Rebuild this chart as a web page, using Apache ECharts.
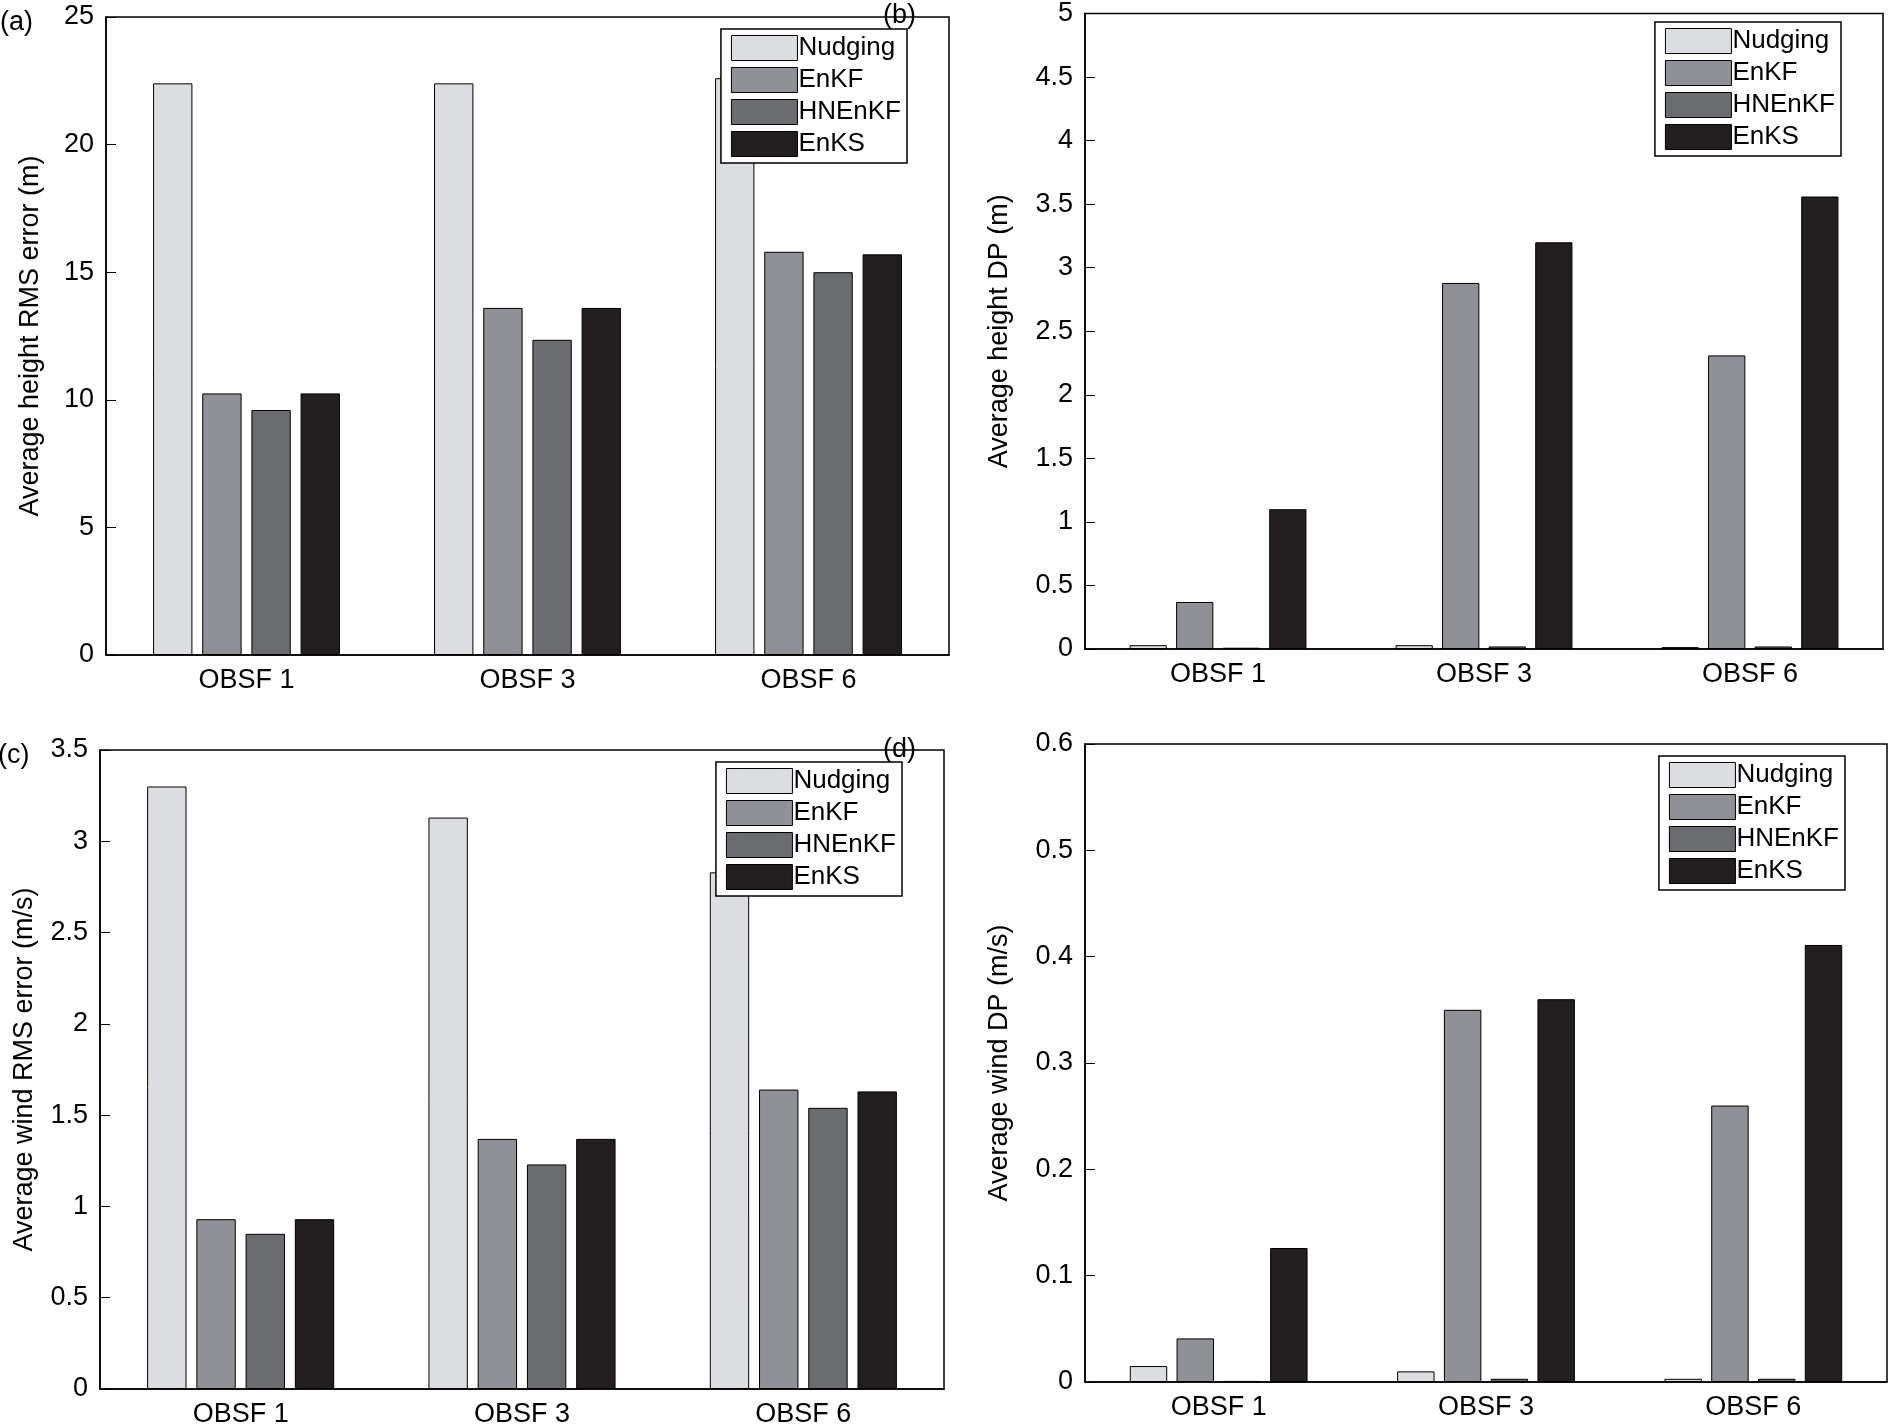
<!DOCTYPE html>
<html lang="en">
<head>
<meta charset="UTF-8">
<title>DA comparison</title>
<script src="https://cdn.jsdelivr.net/npm/echarts@6/dist/echarts.min.js"></script>
<style>
  html, body { margin: 0; padding: 0; background: #fff; }
  #main { width: 1896px; height: 1428px; }
</style>
</head>
<body>
<div id="main"></div>
<script>
var categories = ['OBSF 1', 'OBSF 3', 'OBSF 6'];
var methods = ['Nudging', 'EnKF', 'HNEnKF', 'EnKS'];
var colors = ['#dcdde0', '#909196', '#6b6c6f', '#231f20'];

// (a) height RMS error
var aNudging = [22.4, 22.4, 22.6];
var aEnKF = [10.25, 13.6, 15.8];
var aHNEnKF = [9.6, 12.35, 15.0];
var aEnKS = [10.25, 13.6, 15.7];
// (b) height DP
var bNudging = [0.03, 0.03, 0.015];
var bEnKF = [0.37, 2.88, 2.31];
var bHNEnKF = [0.01, 0.02, 0.02];
var bEnKS = [1.1, 3.2, 3.56];
// (c) wind RMS error
var cNudging = [3.3, 3.13, 2.83];
var cEnKF = [0.93, 1.37, 1.64];
var cHNEnKF = [0.85, 1.23, 1.54];
var cEnKS = [0.93, 1.37, 1.63];
// (d) wind DP
var dNudging = [0.015, 0.01, 0.003];
var dEnKF = [0.041, 0.35, 0.26];
var dHNEnKF = [0.001, 0.003, 0.003];
var dEnKS = [0.126, 0.36, 0.411];

var font = 'Liberation Sans';
var panels = [
  { grid: { left: 106, top: 17, width: 843, height: 638 }, max: 25, step: 5, name: 'Average height RMS error (m)', gap: 62, data: [aNudging, aEnKF, aHNEnKF, aEnKS], tag: '(a)' },
  { grid: { left: 1085, top: 10, width: 798, height: 639 }, max: 5, step: 0.5, name: 'Average height DP (m)', gap: 72, data: [bNudging, bEnKF, bHNEnKF, bEnKS], tag: '(b)' },
  { grid: { left: 100, top: 750, width: 844, height: 639 }, max: 3.5, step: 0.5, name: 'Average wind RMS error (m/s)', gap: 62, data: [cNudging, cEnKF, cHNEnKF, cEnKS], tag: '(c)' },
  { grid: { left: 1085, top: 744, width: 802, height: 638 }, max: 0.6, step: 0.1, name: 'Average wind DP (m/s)', gap: 72, data: [dNudging, dEnKF, dHNEnKF, dEnKS], tag: '(d)' }
];

var option = { animation: false, grid: [], xAxis: [], yAxis: [], series: [], legend: [], graphic: [] };

panels.forEach(function (p, i) {
  option.grid.push(Object.assign({ show: true, borderColor: '#000', borderWidth: 1.5, backgroundColor: 'transparent' }, p.grid));
  option.xAxis.push({
    type: 'category', gridIndex: i, data: categories,
    axisLine: { lineStyle: { color: '#000', width: 1.5 } },
    axisTick: { show: false },
    axisLabel: { color: '#000', fontSize: 27, fontFamily: font, margin: 12 }
  });
  option.yAxis.push({
    type: 'value', gridIndex: i, min: 0, max: p.max, interval: p.step,
    name: p.name, nameLocation: 'middle', nameGap: p.gap,
    nameTextStyle: { color: '#000', fontSize: 27, fontFamily: font },
    splitLine: { show: false },
    axisLine: { show: true, lineStyle: { color: '#000', width: 1.5 } },
    axisTick: { show: true, inside: true, length: 10, lineStyle: { color: '#000' } },
    axisLabel: { color: '#000', fontSize: 27, fontFamily: font, margin: 12 }
  });
  methods.forEach(function (m, k) {
    option.series.push({
      type: 'bar', name: m, xAxisIndex: i, yAxisIndex: i, data: p.data[k],
      barWidth: '14%', barGap: '25%',
      itemStyle: { color: colors[k], borderColor: '#000', borderWidth: 1 }
    });
  });
  option.legend.push({
    data: methods, orient: 'vertical',
    right: 1896 - (p.grid.left + p.grid.width) + 42, top: p.grid.top + 12,
    backgroundColor: '#fff', borderColor: '#000', borderWidth: 1.5,
    padding: [6, 6, 6, 10], itemGap: 6, itemWidth: 66, itemHeight: 25,
    icon: 'rect', selectedMode: false,
    textStyle: { color: '#000', fontSize: 26, fontFamily: font, padding: [0, 0, 0, -4] },
    itemStyle: { borderColor: '#000', borderWidth: 1 }
  });
  option.graphic.push({
    type: 'text', left: p.grid.left - 106 + (i % 2 ? -96 : 0) + (i === 2 ? 4 : 0),
    top: p.grid.top - 8,
    style: { text: p.tag, fontSize: 27, fontFamily: font, fill: '#000' }
  });
});

var chart = echarts.init(document.getElementById('main'));
chart.setOption(option);
</script>
</body>
</html>
